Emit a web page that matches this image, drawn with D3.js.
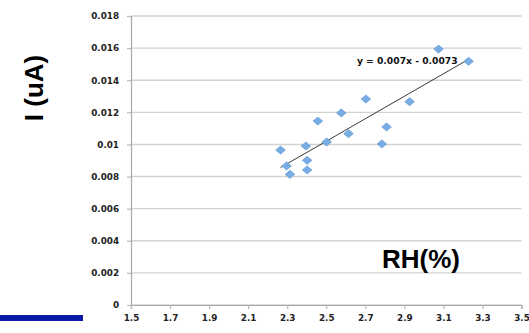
<!DOCTYPE html>
<html>
<head>
<meta charset="utf-8">
<script src="https://cdn.jsdelivr.net/npm/d3@7"></script>
<style>
  html, body { margin: 0; padding: 0; background: #fff; }
  svg { display: block; }
</style>
</head>
<body>
<svg id="chart" width="529" height="333"></svg>
<script>
// Relative humidity (%) readings and measured current (uA)
const rhValues = [2.266, 2.297, 2.314, 2.396, 2.402, 2.402, 2.457, 2.502,
                  2.577, 2.614, 2.703, 2.785, 2.809, 2.927, 3.075, 3.229];
const currentValues = [0.00965, 0.00866, 0.00814, 0.0099, 0.00901, 0.00841, 0.01146, 0.01015,
                       0.01196, 0.01067, 0.01283, 0.01003, 0.01109, 0.01266, 0.01594, 0.01518];

// Linear trend line: y = slope * x + intercept
const trendSlope = [0.007];
const trendIntercept = [-0.0073];
const trendLabel = ["y = 0.007x - 0.0073"];

// Axis ticks and labels
const xTicks = [1.5, 1.7, 1.9, 2.1, 2.3, 2.5, 2.7, 2.9, 3.1, 3.3, 3.5];
const xTickLabels = ["1.5", "1.7", "1.9", "2.1", "2.3", "2.5", "2.7", "2.9", "3.1", "3.3", "3.5"];
const yTicks = [0, 0.002, 0.004, 0.006, 0.008, 0.01, 0.012, 0.014, 0.016, 0.018];
const yTickLabels = ["0", "0.002", "0.004", "0.006", "0.008", "0.01", "0.012", "0.014", "0.016", "0.018"];

const xTitle = ["RH(%)"];
const yTitle = ["I (uA)"];

const svg = d3.select("#chart");

const x = d3.scaleLinear().domain([1.5, 3.5]).range([131, 521.5]);
const y = d3.scaleLinear().domain([0, 0.018]).range([305, 16]);

const tickFont = "'DejaVu Sans', Verdana, sans-serif";

// Horizontal gridlines
svg.append("g")
  .selectAll("line")
  .data(yTicks)
  .join("line")
  .attr("x1", x.range()[0])
  .attr("x2", x.range()[1])
  .attr("y1", d => y(d))
  .attr("y2", d => y(d))
  .attr("stroke", "#d2d2d2")
  .attr("stroke-width", 1.4);

// Y axis
const yAxis = svg.append("g")
  .attr("transform", `translate(${x.range()[0]},0)`)
  .call(d3.axisLeft(y)
    .tickValues(yTicks)
    .tickFormat((d, i) => yTickLabels[i])
    .tickSize(4)
    .tickPadding(8));
yAxis.select(".domain").attr("stroke", "#a8a8a8").attr("stroke-width", 1.2);
yAxis.selectAll(".tick line").attr("stroke", "#b8b8b8").attr("stroke-width", 1.2);
yAxis.selectAll(".tick text")
  .attr("font-family", tickFont)
  .attr("font-weight", "bold")
  .attr("font-size", "8.8px")
  .attr("fill", "#222");

// X axis
const xAxis = svg.append("g")
  .attr("transform", `translate(0,${y.range()[0]})`)
  .call(d3.axisBottom(x)
    .tickValues(xTicks)
    .tickFormat((d, i) => xTickLabels[i])
    .tickSize(4)
    .tickPadding(6));
xAxis.select(".domain").attr("stroke", "#a8a8a8").attr("stroke-width", 1.2);
xAxis.selectAll(".tick line").attr("stroke", "#b8b8b8").attr("stroke-width", 1.2);
xAxis.selectAll(".tick text")
  .attr("font-family", tickFont)
  .attr("font-weight", "bold")
  .attr("font-size", "8.8px")
  .attr("fill", "#222");

// Trend line spanning the observed RH range
const xExtent = d3.extent(rhValues);
const trendPoints = xExtent.map(v => [v, trendSlope[0] * v + trendIntercept[0]]);
svg.append("path")
  .datum(trendPoints)
  .attr("d", d3.line().x(d => x(d[0])).y(d => y(d[1])))
  .attr("fill", "none")
  .attr("stroke", "#222")
  .attr("stroke-width", 0.9);

// Diamond markers
const diamond = d3.symbol().type(d3.symbolDiamond2 || d3.symbolDiamond).size(60);
svg.append("g")
  .selectAll("path")
  .data(rhValues.map((v, i) => [v, currentValues[i]]))
  .join("path")
  .attr("transform", d => `translate(${x(d[0])},${y(d[1])}) scale(1,0.85)`)
  .attr("d", diamond)
  .attr("fill", "#77ade4")
  .attr("stroke", "#5d95d0")
  .attr("stroke-width", 0.6);

// Trend line equation, placed just left of the last point
svg.append("text")
  .attr("x", x(3.173))
  .attr("y", y(0.01518) + 3)
  .attr("text-anchor", "end")
  .attr("font-family", tickFont)
  .attr("font-weight", "bold")
  .attr("font-size", "9.2px")
  .attr("fill", "#111")
  .text(trendLabel[0]);

// Axis titles
svg.append("text")
  .attr("x", 382)
  .attr("y", 268)
  .attr("font-family", "'Liberation Sans', Arial, sans-serif")
  .attr("font-weight", "bold")
  .attr("font-size", "26px")
  .attr("fill", "#000")
  .text(xTitle[0]);

svg.append("text")
  .attr("transform", "translate(43,88) rotate(-90)")
  .attr("text-anchor", "middle")
  .attr("font-family", "'Liberation Sans', Arial, sans-serif")
  .attr("font-weight", "bold")
  .attr("font-size", "26px")
  .attr("fill", "#000")
  .text(yTitle[0]);

// Slide accent bar
svg.append("rect")
  .attr("x", 0)
  .attr("y", 315)
  .attr("width", 83)
  .attr("height", 6)
  .attr("fill", "#0a1aa6");
</script>
</body>
</html>
